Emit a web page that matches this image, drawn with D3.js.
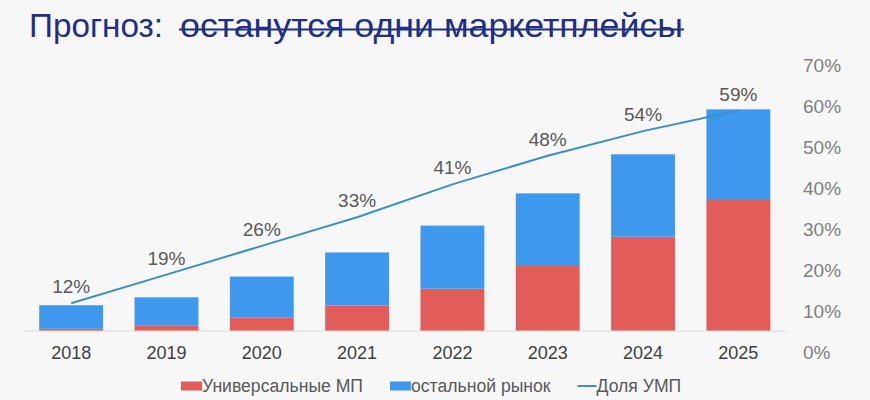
<!DOCTYPE html>
<html lang="ru">
<head>
  <meta charset="UTF-8">
  <title>Прогноз: останутся одни маркетплейсы</title>
  <script src="https://d3js.org/d3.v7.min.js"></script>
  <style>
    body { margin: 0; background: #f7f7f7; font-family: "Liberation Sans", Arial, sans-serif; }
    svg { display: block; }
    .pct-label { font-size: 19px; fill: #595959; }
    .legend-label { font-size: 17.6px; fill: #595959; }
  </style>
</head>
<body>
  <div id="chart"></div>
  <script>
    // данные (рынок, условные трлн руб.; доля универсальных маркетплейсов)
    const years = ["2018", "2019", "2020", "2021", "2022", "2023", "2024", "2025"];
    const universalMP = [0.11, 0.26, 0.66, 1.26, 2.10, 3.23, 4.68, 6.50];
    const otherMarket = [1.17, 1.41, 2.04, 2.64, 3.13, 3.60, 4.09, 4.50];
    const shareUMP = [0.12, 0.19, 0.26, 0.33, 0.41, 0.48, 0.54, 0.59];
    const pctTicks = [0, 0.1, 0.2, 0.3, 0.4, 0.5, 0.6, 0.7];
    const seriesNames = ["Универсальные МП", "остальной рынок", "Доля УМП"];

    const W = 870, H = 400;
    const colors = { red: "#e25c5a", blue: "#3e98ee", line: "#3a8fc4" };

    const svg = d3.select("#chart").append("svg")
      .attr("width", W).attr("height", H);

    // заголовок
    const title = svg.append("g").attr("fill", "#1f2f86")
      .style("font-size", "33px");
    title.append("text").attr("x", 29).attr("y", 37)
      .attr("textLength", 134).attr("lengthAdjust", "spacingAndGlyphs")
      .text("Прогноз:");
    title.append("text").attr("x", 180).attr("y", 37)
      .attr("textLength", 503).attr("lengthAdjust", "spacingAndGlyphs")
      .text("останутся одни маркетплейсы");
    title.append("line")
      .attr("x1", 179).attr("x2", 684)
      .attr("y1", 29.5).attr("y2", 29.5)
      .attr("stroke", "#1f2f86").attr("stroke-width", 2);

    // шкалы
    const x = d3.scaleBand().domain(years).range([23.5, 786])
      .paddingInner(0.33).paddingOuter(0.165);
    const yBar = d3.scaleLinear().domain([0, 12]).range([331, 89.2]);
    const yPct = d3.scaleLinear().domain([0, 0.7]).range([352.5, 65.5]);

    const stackData = years.map((yr, i) => ({ year: yr, red: universalMP[i], blue: otherMarket[i] }));
    const stack = d3.stack().keys(["red", "blue"])(stackData);

    svg.append("g").selectAll("g")
      .data(stack)
      .join("g")
      .attr("fill", d => colors[d.key])
      .selectAll("rect")
      .data(d => d)
      .join("rect")
      .attr("x", d => x(d.data.year))
      .attr("width", x.bandwidth())
      .attr("y", d => yBar(d[1]))
      .attr("height", d => yBar(d[0]) - yBar(d[1]));

    // базовая линия
    svg.append("line")
      .attr("x1", 24).attr("x2", 786)
      .attr("y1", yBar(0)).attr("y2", yBar(0))
      .attr("stroke", "#d9d9d9").attr("stroke-width", 1);

    // ось X
    const xAxis = svg.append("g")
      .attr("transform", `translate(0,${yBar(0)})`)
      .call(d3.axisBottom(x).tickSize(0).tickPadding(15));
    xAxis.select(".domain").remove();
    xAxis.selectAll("text")
      .style("font-size", "18px").style("font-family", "Liberation Sans, Arial, sans-serif")
      .attr("fill", "#404040");

    // правая ось
    const yAxis = svg.append("g")
      .attr("transform", "translate(800,0)")
      .call(d3.axisRight(yPct).tickValues(pctTicks).tickFormat(d3.format(".0%")).tickSize(0).tickPadding(3));
    yAxis.select(".domain").remove();
    yAxis.selectAll("text")
      .style("font-size", "19px").style("font-family", "Liberation Sans, Arial, sans-serif")
      .attr("fill", "#808080");

    // линия доли
    const cx = (d, i) => x(years[i]) + x.bandwidth() / 2;
    svg.append("path")
      .datum(shareUMP)
      .attr("fill", "none")
      .attr("stroke", colors.line)
      .attr("stroke-width", 2)
      .attr("d", d3.line().x(cx).y(d => yPct(d)));

    svg.append("g").selectAll("text")
      .data(shareUMP)
      .join("text")
      .attr("class", "pct-label")
      .attr("text-anchor", "middle")
      .attr("x", cx)
      .attr("y", d => yPct(d) - 10)
      .text(d => d3.format(".0%")(d));

    // легенда
    const legend = svg.append("g").attr("transform", "translate(181,386)");
    let lx = 0;
    seriesNames.forEach((name, i) => {
      const item = legend.append("g").attr("transform", `translate(${lx},0)`);
      let sw;
      if (i < 2) {
        sw = 21;
        item.append("rect").attr("x", 0).attr("y", -4.5).attr("width", sw).attr("height", 9)
          .attr("fill", i === 0 ? colors.red : colors.blue);
      } else {
        sw = 19;
        item.append("line").attr("x1", 0).attr("x2", sw).attr("y1", 0).attr("y2", 0)
          .attr("stroke", colors.line).attr("stroke-width", 2);
      }
      const txt = item.append("text").attr("class", "legend-label")
        .attr("x", sw).attr("dy", "0.35em").text(name);
      lx += sw + txt.node().getComputedTextLength() + 27;
    });
  </script>
</body>
</html>
